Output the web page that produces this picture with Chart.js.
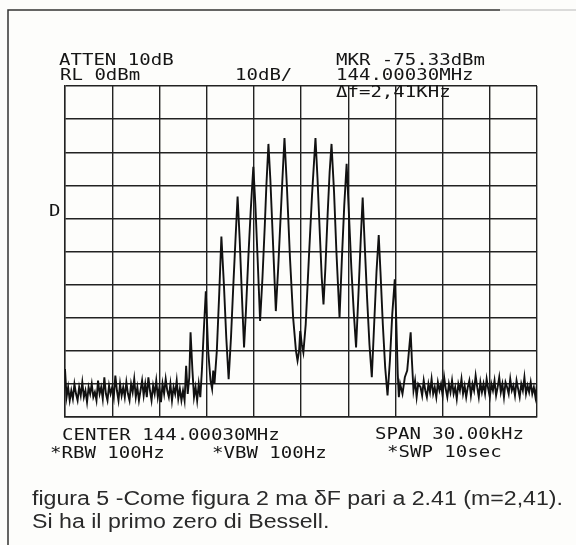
<!DOCTYPE html>
<html>
<head>
<meta charset="utf-8">
<script src="https://cdn.jsdelivr.net/npm/chart.js@4/dist/chart.umd.min.js"></script>
<style>
  body { margin: 0; background: #fdfdfb; }
  canvas { display: block; }
</style>
</head>
<body>
<canvas id="myChart" width="576" height="545"></canvas>
<script>
// asse x: offset dal centro (144.00030 MHz) in kHz, span 30 kHz
const spanKHz = [-15, 15];
const levelDbm = [-100, 0];

// rumore di fondo a sinistra, un punto ogni 0.1 kHz da -15.0
const noiseLowStart = -15.0;
const noiseLowDbm = [
  -85.5, -94, -91, -95, -92, -94.5, -90, -93, -95, -91,
  -93.5, -89.5, -94, -92, -95.5, -91, -93, -90, -94, -92.5,
  -95, -89, -93, -91, -94.5, -88, -93, -95, -90.5, -93,
  -91, -94, -87.5, -92, -95, -90, -93.5, -91, -94, -89.5,
  -93, -95, -90, -92.5, -88.5, -94, -91, -95, -92, -89,
  -93.5, -90, -94, -88, -92, -95, -90.5, -93, -89, -94,
  -91, -95.5, -90, -93, -88.5, -92, -94, -90, -95, -91,
  -93, -89, -94.5, -91.5, -95
];

// righe laterali (m = 2.41, portante nulla)
const sidebandKHz = [
  -7.5, -7.4, -7.3, -7.2, -7.1, -7.02, -6.9, -6.8, -6.7, -6.6,
  -6.5, -6.4, -6.3, -6.2, -6.05, -5.9, -5.75, -5.65, -5.58, -5.5,
  -5.35, -5.2, -5.06, -4.9, -4.75, -4.6, -4.45, -4.3, -4.15, -4.03,
  -3.9, -3.75, -3.62, -3.5, -3.35, -3.2, -3.03, -2.9, -2.75, -2.6,
  -2.45, -2.3, -2.2, -2.07, -1.95, -1.8, -1.6, -1.45, -1.3, -1.18,
  -1.05, -0.9, -0.7, -0.5, -0.32, -0.22, -0.12, -0.05, 0.05, 0.15,
  0.3, 0.5, 0.7, 0.92, 1.05, 1.2, 1.32, 1.43, 1.55, 1.7,
  1.82, 1.94, 2.1, 2.25, 2.45, 2.6, 2.75, 2.9, 3.05, 3.2,
  3.35, 3.5, 3.65, 3.8, 3.92, 4.05, 4.2, 4.35, 4.5, 4.65,
  4.8, 4.94, 5.05, 5.2, 5.35, 5.5, 5.65, 5.8, 5.96, 6.05,
  6.15, 6.22, 6.3, 6.45, 6.6, 6.75, 6.9, 6.97, 7.05, 7.15,
  7.25, 7.35, 7.45
];
const sidebandDbm = [
  -92, -95, -84.5, -93, -88, -74.4, -86, -94, -91, -95,
  -90, -94, -86, -76, -62, -80, -89, -91.5, -86, -90,
  -80, -63, -45.5, -60, -76, -88.6, -76, -60, -45, -33.4,
  -46, -64, -79, -68, -52, -38, -24.4, -36, -53, -71,
  -58, -42, -30, -17.5, -28, -45, -68, -55, -40, -28,
  -15.7, -30, -52, -70, -80, -83, -80, -74, -78, -80.5,
  -72, -52, -33, -15.7, -28, -45, -58, -66, -55, -38,
  -26, -17.5, -32, -50, -70, -52, -36, -23.5, -39, -55,
  -68, -79, -63, -46, -33.7, -48, -64, -78, -88, -72,
  -56, -45, -56, -72, -85, -93.5, -83, -69, -58.4, -70,
  -87, -94, -90, -93, -88, -86, -78, -74.4, -83, -92,
  -89, -94, -90
];

// rumore di fondo a destra, un punto ogni 0.1 kHz da 7.6
const noiseHighStart = 7.6;
const noiseHighDbm = [
  -91, -93.5, -89, -92, -94, -90, -92.5, -88.5, -93, -91,
  -94, -89.5, -92, -90, -93.5, -88, -91.5, -94, -90, -92.5,
  -89, -93, -91, -94.5, -90, -92, -88.5, -93, -90.5, -94,
  -91, -89, -93.5, -90, -92, -87.5, -91, -94, -89.5, -92.5,
  -90, -93, -88.5, -91.5, -94, -90, -92, -89, -93.5, -91,
  -88, -92.5, -90, -94, -89.5, -91, -93, -88.5, -92, -90.5,
  -93.5, -89, -91.5, -94, -90, -92, -88, -93, -90.5, -92.5,
  -89.5, -93, -91, -94, -90
];

const sweepStep = 0.1;

// testi dello strumento
const topLeft = ["ATTEN 10dB", "RL 0dBm"];
const topScale = "10dB/";
const topRight = ["MKR -75.33dBm", "144.00030MHz"];
const markerDelta = "\u0394f=2,41KHz";
const bottomLeft = ["CENTER 144.00030MHz", "*RBW 100Hz", "*VBW 100Hz"];
const bottomRight = ["SPAN 30.00kHz", "*SWP 10sec"];
const caption = [
  "figura 5 -Come figura 2 ma \u03b4F pari a 2.41 (m=2,41).",
  "Si ha il primo zero di Bessell."
];

let trace = [];
noiseLowDbm.forEach((v, i) => {
  trace.push({ x: noiseLowStart + i * sweepStep, y: v });
});
sidebandKHz.forEach((f, i) => {
  trace.push({ x: f, y: sidebandDbm[i] });
});
noiseHighDbm.forEach((v, i) => {
  trace.push({ x: noiseHighStart + i * sweepStep, y: v });
});

function monoText(ctx, txt, x, y) {
  ctx.save();
  ctx.translate(x, y);
  ctx.scale(1.19, 1);
  ctx.fillText(txt, 0, 0);
  ctx.restore();
}

const scritte = {
  id: "scritte",
  beforeDraw(chart) {
    const ctx = chart.ctx;
    ctx.save();
    ctx.fillStyle = "#fdfdfb";
    ctx.fillRect(0, 0, chart.width, chart.height);
    // cornice
    ctx.strokeStyle = "#333";
    ctx.lineWidth = 1.5;
    ctx.beginPath();
    ctx.moveTo(8, 545);
    ctx.lineTo(8, 10);
    ctx.lineTo(500, 10);
    ctx.stroke();
    ctx.strokeStyle = "#cfcfcf";
    ctx.beginPath();
    ctx.moveTo(500, 10);
    ctx.lineTo(576, 10);
    ctx.stroke();
    ctx.restore();
  },
  afterDraw(chart) {
    const ctx = chart.ctx;
    ctx.save();
    ctx.fillStyle = "#151515";
    ctx.font = "16px 'DejaVu Sans Mono'";
    ctx.textBaseline = "alphabetic";
    monoText(ctx, topLeft[0], 59, 65);
    monoText(ctx, topLeft[1], 60, 80);
    monoText(ctx, topScale, 235, 80);
    monoText(ctx, topRight[0], 336, 65);
    monoText(ctx, topRight[1], 336, 80);
    monoText(ctx, markerDelta, 336, 97);
    monoText(ctx, "D", 49, 216);
    monoText(ctx, bottomLeft[0], 62, 440);
    monoText(ctx, bottomLeft[1], 50, 458);
    monoText(ctx, bottomLeft[2], 212, 458);
    monoText(ctx, bottomRight[0], 375, 439);
    monoText(ctx, bottomRight[1], 387, 457);

    ctx.fillStyle = "#2a2a2a";
    ctx.font = "19.5px 'Liberation Sans'";
    const w = ctx.measureText(caption[0]).width;
    const k = 531 / w;
    ctx.save();
    ctx.translate(32, 505);
    ctx.scale(k, 1);
    ctx.fillText(caption[0], 0, 0);
    ctx.restore();
    ctx.save();
    ctx.translate(32, 528);
    ctx.scale(k, 1);
    ctx.fillText(caption[1], 0, 0);
    ctx.restore();
    ctx.restore();
  }
};

const config = {
  type: "line",
  data: {
    datasets: [
      {
        label: "traccia",
        data: trace,
        borderColor: "#111",
        borderWidth: 1.9,
        pointRadius: 0,
        tension: 0,
        fill: false
      }
    ]
  },
  options: {
    responsive: false,
    animation: false,
    devicePixelRatio: 1,
    layout: { padding: { left: 65, right: 39, top: 86, bottom: 128 } },
    plugins: { legend: { display: false }, tooltip: { enabled: false } },
    scales: {
      x: {
        type: "linear",
        min: spanKHz[0],
        max: spanKHz[1],
        ticks: { display: false, stepSize: 3 },
        grid: { color: "#222", lineWidth: 1.4, drawTicks: false },
        border: { display: true, color: "#222", width: 1.4 }
      },
      y: {
        min: levelDbm[0],
        max: levelDbm[1],
        ticks: { display: false, stepSize: 10 },
        grid: { color: "#222", lineWidth: 1.4, drawTicks: false },
        border: { display: true, color: "#222", width: 1.4 }
      }
    }
  },
  plugins: [scritte]
};

var myChart = new Chart(document.getElementById("myChart"), config);
</script>
</body>
</html>
